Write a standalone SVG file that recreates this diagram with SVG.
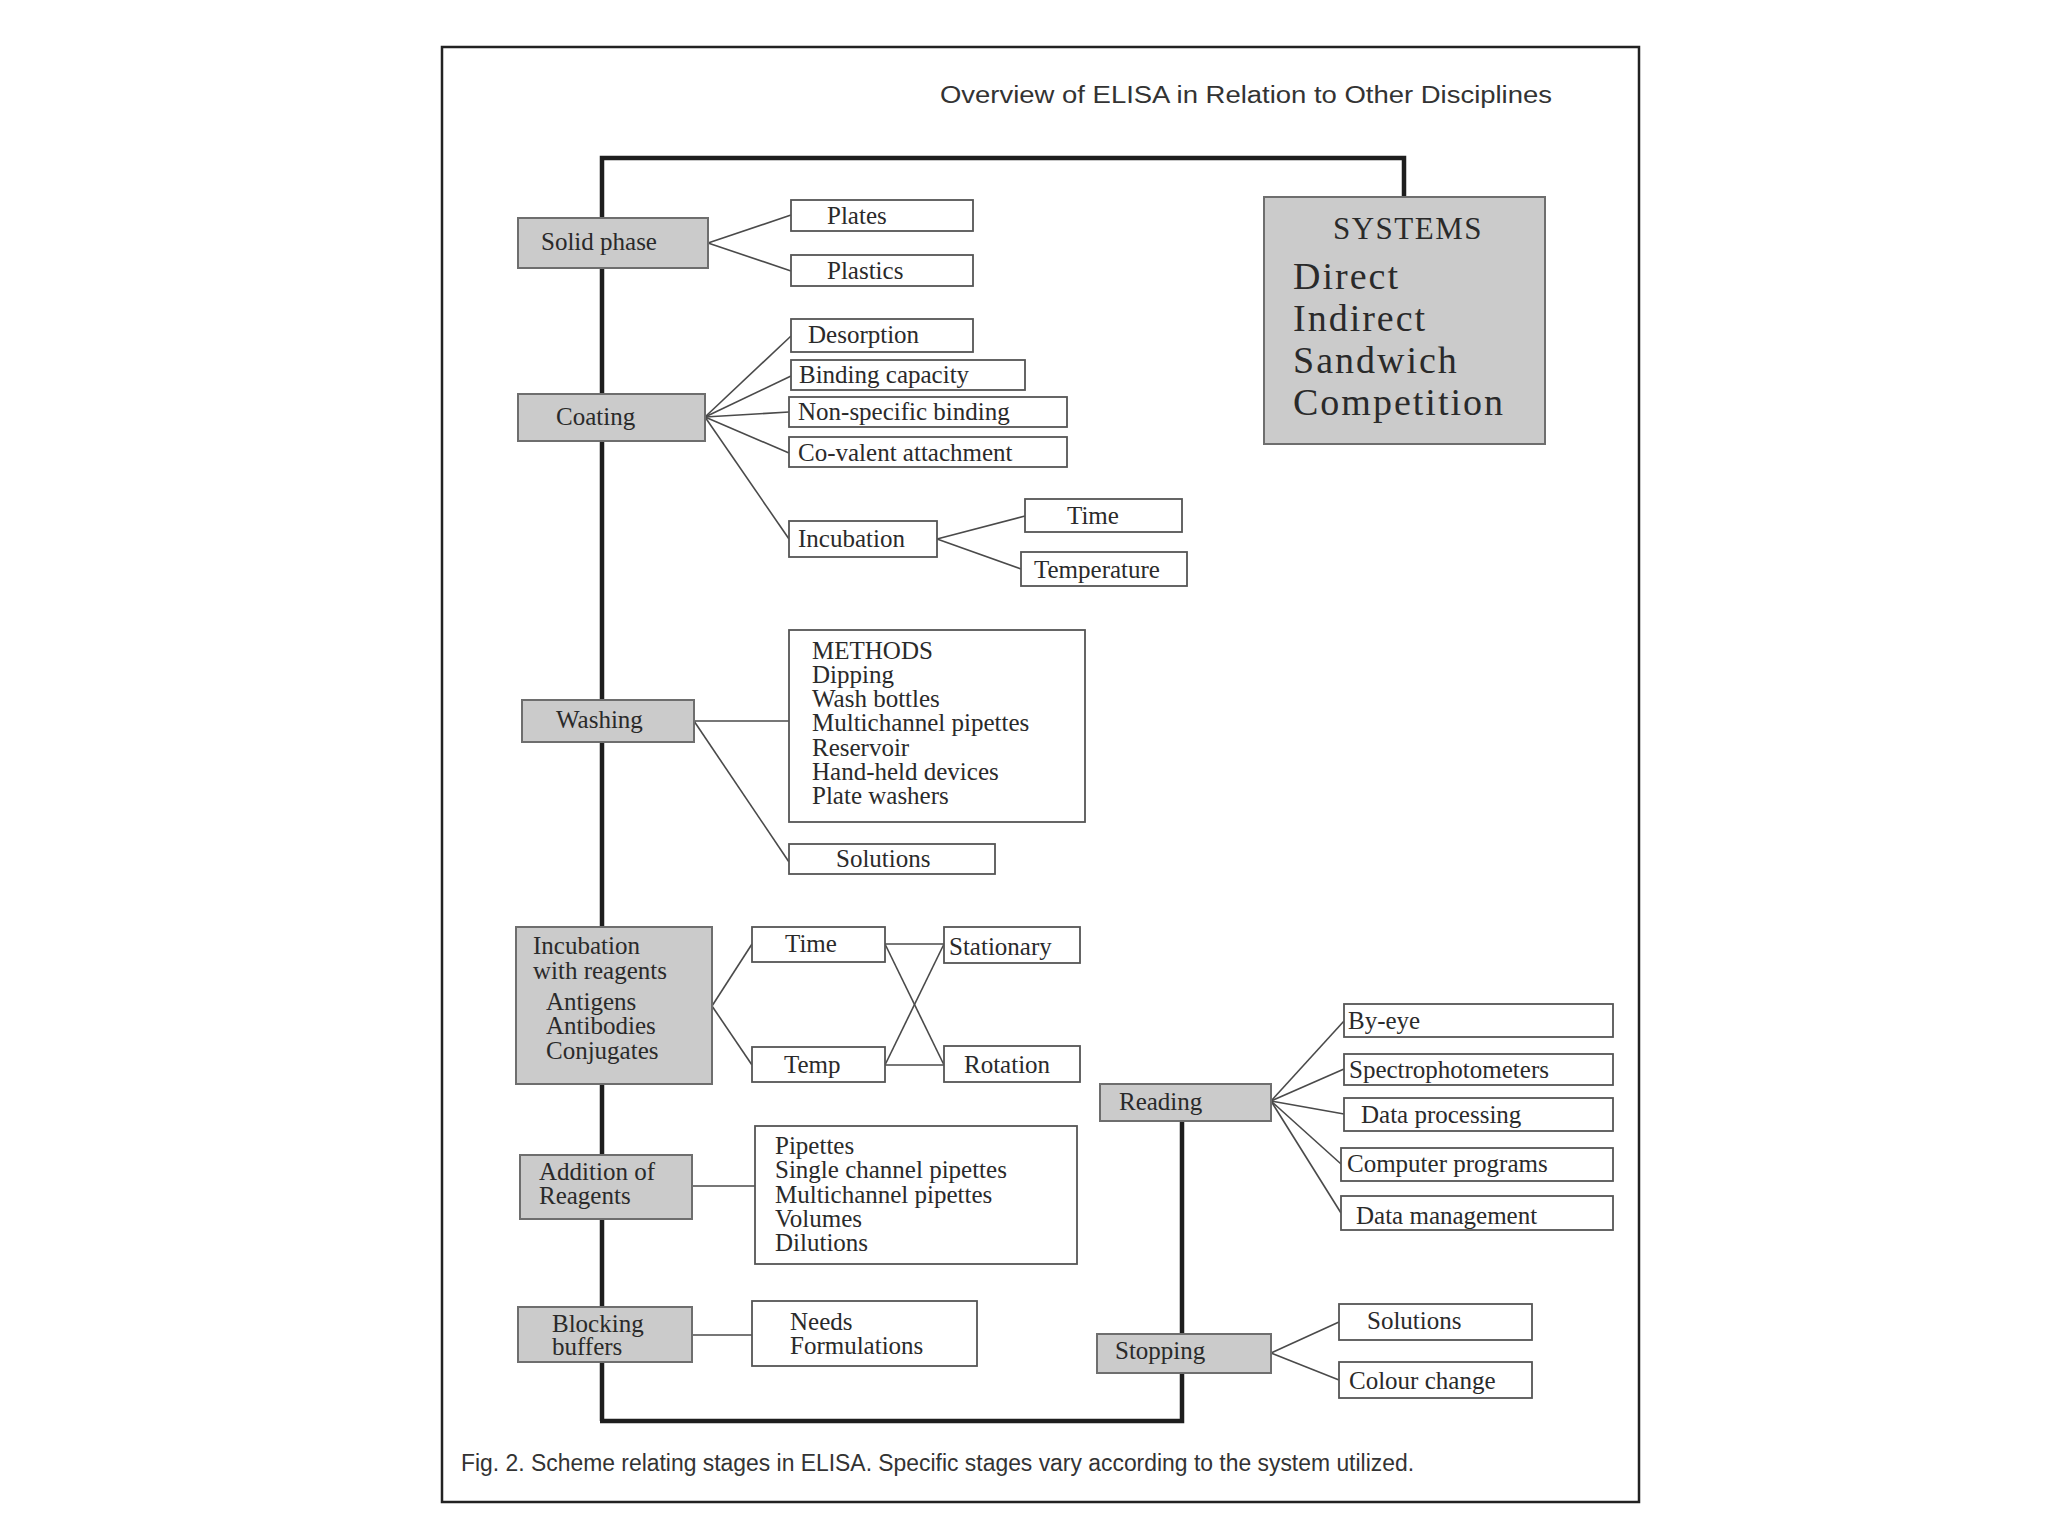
<svg xmlns="http://www.w3.org/2000/svg" width="2048" height="1536" viewBox="0 0 2048 1536">
<style>
.bg{fill:#ffffff}
.frame{fill:none;stroke:#222;stroke-width:2.5}
.spine{fill:none;stroke:#1e1e1e;stroke-width:4.5}
.gray{fill:#cbcbcb;stroke:#6e6e6e;stroke-width:2}
.white{fill:#ffffff;stroke:#555;stroke-width:1.8}
.link{fill:none;stroke:#4a4a4a;stroke-width:1.6}
.t{font-family:"Liberation Serif","Times New Roman",serif;font-size:25px;fill:#2a2a2a}
.big{font-family:"Liberation Serif","Times New Roman",serif;font-size:38px;letter-spacing:2px;fill:#2a2a2a}
.sys{font-family:"Liberation Serif","Times New Roman",serif;font-size:31px;letter-spacing:1.5px;fill:#2a2a2a}
.sans{font-family:"Liberation Sans",Arial,sans-serif;font-size:23px;fill:#333}
</style>
<rect class="bg" x="0" y="0" width="2048" height="1536"/>
<rect class="frame" x="442" y="47" width="1197" height="1455"/>
<text class="sans" x="940" y="103" textLength="612" lengthAdjust="spacingAndGlyphs">Overview of ELISA in Relation to Other Disciplines</text>

<g id="connectors">
<path class="spine" d="M602,1421 L602,158 L1404,158 L1404,197"/>
<path class="spine" d="M600,1421 L1182,1421 L1182,1121"/>
<line class="link" x1="708" y1="243" x2="791" y2="215"/>
<line class="link" x1="708" y1="243" x2="791" y2="271"/>
<line class="link" x1="705" y1="417" x2="791" y2="336"/>
<line class="link" x1="705" y1="417" x2="791" y2="376"/>
<line class="link" x1="705" y1="417" x2="789" y2="412"/>
<line class="link" x1="705" y1="417" x2="789" y2="453"/>
<line class="link" x1="705" y1="417" x2="789" y2="539"/>
<line class="link" x1="937" y1="539" x2="1025" y2="516"/>
<line class="link" x1="937" y1="539" x2="1021" y2="569"/>
<line class="link" x1="694" y1="721" x2="789" y2="721"/>
<line class="link" x1="694" y1="721" x2="789" y2="862"/>
<line class="link" x1="712" y1="1006" x2="752" y2="944"/>
<line class="link" x1="712" y1="1006" x2="752" y2="1065"/>
<line class="link" x1="885" y1="944" x2="944" y2="944"/>
<line class="link" x1="885" y1="944" x2="944" y2="1065"/>
<line class="link" x1="885" y1="1065" x2="944" y2="1065"/>
<line class="link" x1="885" y1="1065" x2="944" y2="944"/>
<line class="link" x1="692" y1="1186" x2="755" y2="1186"/>
<line class="link" x1="692" y1="1335" x2="752" y2="1335"/>
<line class="link" x1="1271" y1="1101" x2="1344" y2="1021"/>
<line class="link" x1="1271" y1="1101" x2="1344" y2="1069"/>
<line class="link" x1="1271" y1="1101" x2="1344" y2="1114"/>
<line class="link" x1="1271" y1="1101" x2="1341" y2="1164"/>
<line class="link" x1="1271" y1="1101" x2="1341" y2="1213"/>
<line class="link" x1="1271" y1="1353" x2="1339" y2="1322"/>
<line class="link" x1="1271" y1="1353" x2="1339" y2="1380"/>
</g>

<g id="systems"><rect class="gray" x="1264" y="197" width="281" height="247"/>
<text class="sys" x="1408" y="239" text-anchor="middle">SYSTEMS</text>
<text class="big" x="1293" y="289">Direct</text>
<text class="big" x="1293" y="331">Indirect</text>
<text class="big" x="1293" y="373">Sandwich</text>
<text class="big" x="1293" y="415">Competition</text></g>

<g id="solid-phase"><rect class="gray" x="518" y="218" width="190" height="50"/><text class="t" x="541" y="250">Solid phase</text></g>
<g id="plates"><rect class="white" x="791" y="200" width="182" height="31"/><text class="t" x="827" y="224">Plates</text></g>
<g id="plastics"><rect class="white" x="791" y="255" width="182" height="31"/><text class="t" x="827" y="279">Plastics</text></g>

<g id="coating"><rect class="gray" x="518" y="394" width="187" height="47"/><text class="t" x="556" y="425">Coating</text></g>
<g id="desorption"><rect class="white" x="791" y="319" width="182" height="33"/><text class="t" x="808" y="343">Desorption</text></g>
<g id="binding-capacity"><rect class="white" x="791" y="360" width="234" height="30"/><text class="t" x="799" y="383">Binding capacity</text></g>
<g id="non-specific"><rect class="white" x="789" y="397" width="278" height="30"/><text class="t" x="798" y="420">Non-specific binding</text></g>
<g id="co-valent"><rect class="white" x="789" y="437" width="278" height="30"/><text class="t" x="798" y="461">Co-valent attachment</text></g>
<g id="incubation"><rect class="white" x="789" y="521" width="148" height="36"/><text class="t" x="798" y="547">Incubation</text></g>
<g id="time-1"><rect class="white" x="1025" y="499" width="157" height="33"/><text class="t" x="1067" y="524">Time</text></g>
<g id="temperature"><rect class="white" x="1021" y="552" width="166" height="34"/><text class="t" x="1034" y="578">Temperature</text></g>

<g id="washing"><rect class="gray" x="522" y="700" width="172" height="42"/><text class="t" x="556" y="728">Washing</text></g>
<g id="methods"><rect class="white" x="789" y="630" width="296" height="192"/>
<text class="t" x="812" y="659">METHODS</text>
<text class="t" x="812" y="683">Dipping</text>
<text class="t" x="812" y="707">Wash bottles</text>
<text class="t" x="812" y="731">Multichannel pipettes</text>
<text class="t" x="812" y="756">Reservoir</text>
<text class="t" x="812" y="780">Hand-held devices</text>
<text class="t" x="812" y="804">Plate washers</text></g>
<g id="solutions-1"><rect class="white" x="789" y="844" width="206" height="30"/><text class="t" x="836" y="867">Solutions</text></g>

<g id="incubation-reagents"><rect class="gray" x="516" y="927" width="196" height="157"/>
<text class="t" x="533" y="954">Incubation</text>
<text class="t" x="533" y="979">with reagents</text>
<text class="t" x="546" y="1010">Antigens</text>
<text class="t" x="546" y="1034">Antibodies</text>
<text class="t" x="546" y="1059">Conjugates</text></g>
<g id="time-2"><rect class="white" x="752" y="927" width="133" height="35"/><text class="t" x="785" y="952">Time</text></g>
<g id="stationary"><rect class="white" x="944" y="927" width="136" height="36"/><text class="t" x="949" y="955">Stationary</text></g>
<g id="temp"><rect class="white" x="752" y="1047" width="133" height="35"/><text class="t" x="784" y="1073">Temp</text></g>
<g id="rotation"><rect class="white" x="944" y="1046" width="136" height="36"/><text class="t" x="964" y="1073">Rotation</text></g>

<g id="addition"><rect class="gray" x="520" y="1155" width="172" height="64"/>
<text class="t" x="539" y="1180">Addition of</text>
<text class="t" x="539" y="1204">Reagents</text></g>
<g id="pipettes"><rect class="white" x="755" y="1126" width="322" height="138"/>
<text class="t" x="775" y="1154">Pipettes</text>
<text class="t" x="775" y="1178">Single channel pipettes</text>
<text class="t" x="775" y="1203">Multichannel pipettes</text>
<text class="t" x="775" y="1227">Volumes</text>
<text class="t" x="775" y="1251">Dilutions</text></g>

<g id="blocking"><rect class="gray" x="518" y="1307" width="174" height="55"/>
<text class="t" x="552" y="1332">Blocking</text>
<text class="t" x="552" y="1355">buffers</text></g>
<g id="needs"><rect class="white" x="752" y="1301" width="225" height="65"/>
<text class="t" x="790" y="1330">Needs</text>
<text class="t" x="790" y="1354">Formulations</text></g>

<g id="reading"><rect class="gray" x="1100" y="1084" width="171" height="37"/><text class="t" x="1119" y="1110">Reading</text></g>
<g id="by-eye"><rect class="white" x="1344" y="1004" width="269" height="33"/><text class="t" x="1348" y="1029">By-eye</text></g>
<g id="spectro"><rect class="white" x="1344" y="1054" width="269" height="31"/><text class="t" x="1349" y="1078">Spectrophotometers</text></g>
<g id="data-processing"><rect class="white" x="1344" y="1098" width="269" height="33"/><text class="t" x="1361" y="1123">Data processing</text></g>
<g id="computer-programs"><rect class="white" x="1341" y="1148" width="272" height="33"/><text class="t" x="1347" y="1172">Computer programs</text></g>
<g id="data-management"><rect class="white" x="1341" y="1196" width="272" height="34"/><text class="t" x="1356" y="1224">Data management</text></g>

<g id="stopping"><rect class="gray" x="1097" y="1334" width="174" height="39"/><text class="t" x="1115" y="1359">Stopping</text></g>
<g id="solutions-2"><rect class="white" x="1339" y="1304" width="193" height="36"/><text class="t" x="1367" y="1329">Solutions</text></g>
<g id="colour-change"><rect class="white" x="1339" y="1362" width="193" height="36"/><text class="t" x="1349" y="1389">Colour change</text></g>

<text class="sans" x="461" y="1471" font-size="22" textLength="953" lengthAdjust="spacingAndGlyphs">Fig. 2.  Scheme relating stages in ELISA. Specific stages vary according to the system utilized.</text>
</svg>
